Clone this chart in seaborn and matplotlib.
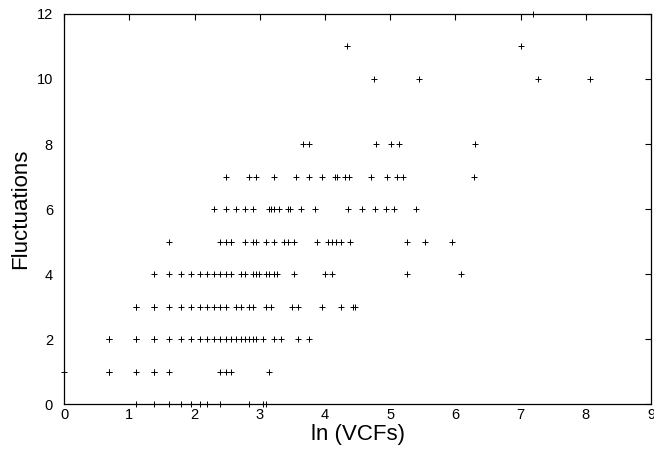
import numpy as np
import pandas as pd
import matplotlib
matplotlib.use("Agg")
import matplotlib.pyplot as plt
import seaborn as sns

# VCF counts observed at each fluctuation level (x axis shows their natural log)
vcf_f0 = [3, 4, 5, 6, 7, 8, 9, 11, 17, 21, 22]
vcf_f1 = [1, 2, 2, 3, 4, 4, 5, 11, 12, 13, 23]
vcf_f2 = [2, 2, 3, 3, 4, 4, 5, 6, 7, 8, 9, 10, 11, 12, 13, 14, 15, 16, 17, 18,
          19, 21, 25, 28, 36, 43]
vcf_f3 = [3, 3, 4, 4, 5, 6, 7, 8, 9, 10, 11, 12, 14, 15, 17, 18, 22, 24, 33, 36,
          52, 70, 84, 87]
vcf_f4 = [4, 5, 6, 7, 8, 9, 10, 11, 12, 13, 15, 16, 18, 19, 20, 22, 23, 25, 26,
          34, 55, 61, 191, 438]
vcf_f5 = [5, 11, 12, 13, 13, 16, 18, 19, 22, 25, 29, 31, 34, 48, 57, 61, 65, 70,
          80, 191, 254, 383]
vcf_f6 = [10, 12, 14, 16, 18, 23, 24, 25, 27, 31, 32, 38, 47, 78, 97, 117, 140,
          157, 220]
vcf_f7 = [12, 17, 19, 25, 35, 43, 52, 64, 66, 74, 79, 110, 141, 166, 180, 537]
vcf_f8 = [39, 43, 120, 150, 170, 548]
vcf_f10 = [115, 232, 1428, 3186]
vcf_f11 = [77, 1100]
vcf_f12 = [1323]

levels = [0, 1, 2, 3, 4, 5, 6, 7, 8, 10, 11, 12]
groups = [vcf_f0, vcf_f1, vcf_f2, vcf_f3, vcf_f4, vcf_f5, vcf_f6, vcf_f7,
          vcf_f8, vcf_f10, vcf_f11, vcf_f12]

x_ticks = list(range(0, 10))
y_ticks = list(range(0, 13, 2))

rows = []
for lvl, vcfs in zip(levels, groups):
    for v in vcfs:
        rows.append({"lnvcf": np.log(v), "fluct": lvl})
df = pd.DataFrame(rows)

sns.set_style("white")
plt.rcParams["font.family"] = ["Liberation Sans", "DejaVu Sans"]
plt.rcParams["text.color"] = "black"
plt.rcParams["axes.labelcolor"] = "black"

fig = plt.figure(figsize=(6.54, 4.5), dpi=100)
ax = fig.add_axes([0.098, 0.1016, 0.8974, 0.8675])

sns.scatterplot(data=df, x="lnvcf", y="fluct", marker="+", color="black",
                s=20, linewidth=0.7, ax=ax, clip_on=False, zorder=3)

ax.set_xlim(0, 9)
ax.set_ylim(0, 12)
ax.set_xticks(x_ticks)
ax.set_yticks(y_ticks)
ax.set_xlabel("ln (VCFs)", fontsize=16, labelpad=1, color="black")
ax.set_ylabel("Fluctuations", fontsize=16, labelpad=4, color="black")
ax.tick_params(direction="in", length=4, width=0.8, top=True, right=True,
               labelsize=10.5, colors="black", labelcolor="black")
ax.tick_params(axis="y", pad=8)
ax.tick_params(axis="x", pad=3)
for sp in ax.spines.values():
    sp.set_visible(True)
    sp.set_color("black")
    sp.set_linewidth(0.9)

fig.savefig("out.png", dpi=100, facecolor="white")
